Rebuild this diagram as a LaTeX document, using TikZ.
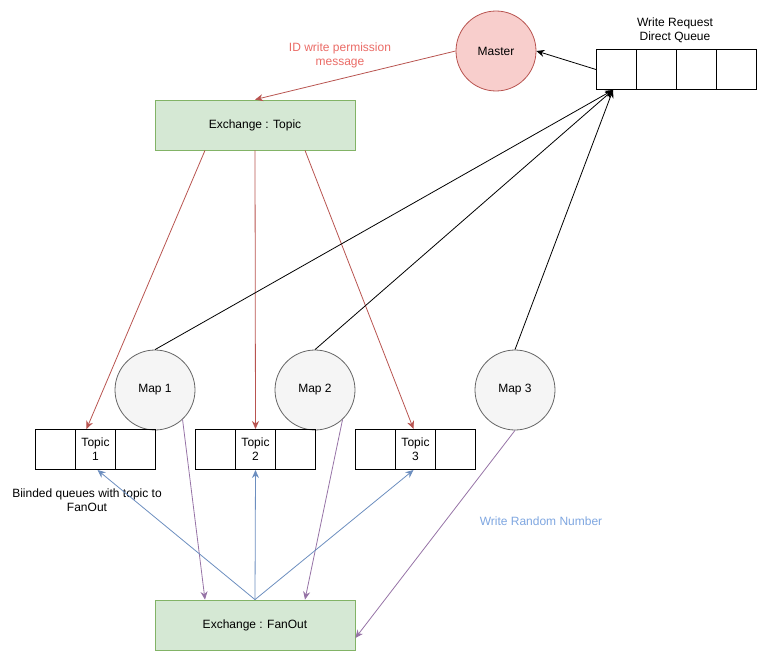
\documentclass[tikz,border=0pt]{standalone}
\usepackage{fontspec}
\setmainfont{Liberation Sans}
\usetikzlibrary{arrows.meta,calc}
\definecolor{mfill}{HTML}{F8CECC}
\definecolor{mline}{HTML}{B85450}
\definecolor{xfill}{HTML}{D5E8D4}
\definecolor{xline}{HTML}{82B366}
\definecolor{pfill}{HTML}{F5F5F5}
\definecolor{pline}{HTML}{666666}
\definecolor{bline}{HTML}{6C8EBF}
\definecolor{vline}{HTML}{9673A6}
\definecolor{rtext}{HTML}{EA6B66}
\definecolor{btext}{HTML}{7EA6E0}
\tikzset{
  lbl/.style={font=\fontsize{12}{14}\selectfont, align=center, inner sep=0pt},
  cell/.style={draw=black, line width=1pt, minimum width=40pt, minimum height=40pt, inner sep=0pt, lbl, anchor=south west},
  proc/.style={circle, draw=pline, fill=pfill, minimum size=80pt, inner sep=0pt, lbl, line width=0.8pt},
  master/.style={circle, draw=mline, fill=mfill, minimum size=80pt, inner sep=0pt, lbl, line width=0.8pt},
  exch/.style={draw=xline, fill=xfill, minimum width=200pt, minimum height=50pt, inner sep=0pt, lbl, line width=0.8pt},
  tip/.style={-{Stealth[length=8pt,width=7pt]}},
  redarr/.style={tip, draw=mline, line width=0.8pt},
  blkarr/.style={tip, draw=black, line width=0.8pt},
  bluarr/.style={tip, draw=bline, line width=0.8pt},
  purarr/.style={tip, draw=vline, line width=0.8pt},
}
\begin{document}
\begin{tikzpicture}[x=1pt,y=-1pt]
\useasboundingbox (0,0) rectangle (766,661);
% master and write queue
\node[master] (master) at (496,51) {Master};
\foreach \i/\x in {a/596,b/636,c/676,d/716}{
  \node[cell] (wq\i) at (\x,90) {};
}
\node[lbl] (wqlabel) at (675,30.5) {Write Request\\Direct Queue};
% exchanges
\node[exch] (xt) at (255,125) {Exchange : Topic};
\node[exch] (xf) at (255,625) {Exchange : FanOut};
% maps
\node[proc] (m1) at (155,390) {Map 1};
\node[proc] (m2) at (315,390) {Map 2};
\node[proc] (m3) at (515,390) {Map 3};
% topic queues
\node[cell] (q1a) at (35,470) {};
\node[cell] (q1b) at (75,470) {Topic\\1};
\node[cell] (q1c) at (115,470) {};
\node[cell] (q2a) at (195,470) {};
\node[cell] (q2b) at (235,470) {Topic\\2};
\node[cell] (q2c) at (275,470) {};
\node[cell] (q3a) at (355,470) {};
\node[cell] (q3b) at (395,470) {Topic\\3};
\node[cell] (q3c) at (435,470) {};
% labels
\node[lbl, text=rtext] (idlbl) at (340,55.5) {ID write permission\\message};
\node[lbl] (bindlbl) at (87,500.5) {Biinded queues with topic to\\FanOut};
\node[lbl, text=btext] (wrlbl) at (541,521) {Write Random Number};
% coordinate for converging arrows
\coordinate (wqin) at (613,90);
% connectors
\draw[blkarr] (wqa.west) -- (master.east);
\draw[redarr] (master.west) -- (xt.north);
\draw[redarr] ([xshift=-50]xt.south) -- ([xshift=-9]q1b.north);
\draw[redarr] (xt.south) -- (q2b.north);
\draw[redarr] ([xshift=50]xt.south) -- ([xshift=-2]q3b.north);
\draw[blkarr] (m1.north) -- (wqin);
\draw[blkarr] (m2.north) -- (wqin);
\draw[blkarr] (m3.north) -- (wqin);
\draw[purarr] (m1.-47) -- ([xshift=-50]xf.north);
\draw[purarr] (m2.-47) -- ([xshift=50]xf.north);
\draw[purarr] (m3.south) -- ([yshift=-13]xf.east);
\draw[bluarr] (xf.north) -- ([xshift=2]q1b.south);
\draw[bluarr] (xf.north) -- (q2b.south);
\draw[bluarr] (xf.north) -- ([xshift=-2]q3b.south);
\end{tikzpicture}
\end{document}
